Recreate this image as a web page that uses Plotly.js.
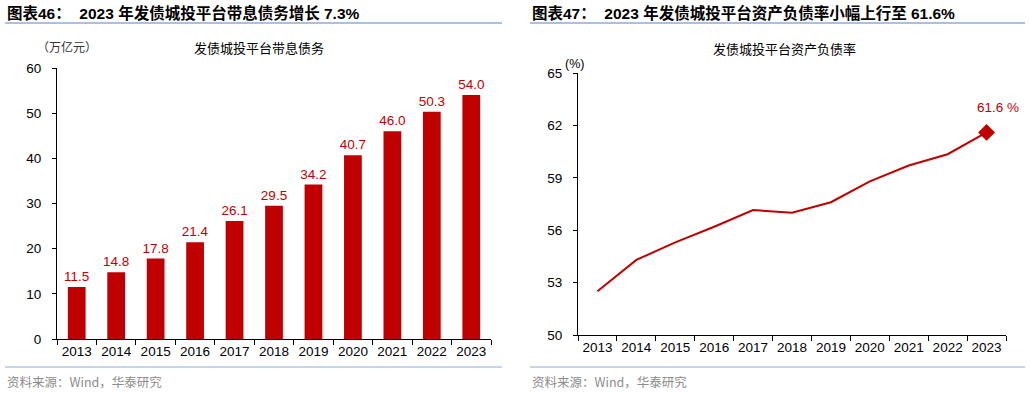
<!DOCTYPE html>
<html><head><meta charset="utf-8">
<script src="https://cdn.plot.ly/plotly-3.0.1.min.js"></script>
<style>html,body{margin:0;padding:0;background:#fff}#c{width:1030px;height:393px}</style>
</head><body><div id="c"></div>
<script>
const years = ['2013','2014','2015','2016','2017','2018','2019','2020','2021','2022','2023'];
const debt = [11.5,14.8,17.8,21.4,26.1,29.5,34.2,40.7,46.0,50.3,54.0];
const ratio = [52.5,54.3,55.3,56.2,57.15,57.0,57.6,58.8,59.7,60.35,61.6];
const debtTicks = [0,10,20,30,40,50,60];
const ratioTicks = [50,53,56,59,62,65];

const red = '#C00000';
const F = 'Liberation Sans, Arial, Noto Sans CJK SC, sans-serif';
const CJK = 'Noto Sans CJK SC, sans-serif';
const last = ratio.length - 1;

const traces = [
  {type:'bar', x:years, y:debt, xaxis:'x', yaxis:'y', marker:{color:red},
   text:debt.map(v=>v.toFixed(1)), textposition:'outside', cliponaxis:false, constraintext:'none',
   textfont:{family:F,size:13.5,color:red}, hoverinfo:'skip'},
  {type:'scatter', mode:'lines+markers', x:years, y:ratio, xaxis:'x2', yaxis:'y2',
   line:{color:red,width:2},
   marker:{symbol:'diamond', color:red, opacity:1, line:{width:0}, size:ratio.map((v,i)=>i===last?13:0)},
   cliponaxis:false, hoverinfo:'skip'}
];

function xax(dom, anchor){
  return {type:'category', categoryorder:'array', categoryarray:years, range:[-0.5, years.length-0.5],
    domain:dom, anchor:anchor, showgrid:false, showline:true, linecolor:'#000', linewidth:1,
    ticks:'outside', tickson:'boundaries', ticklen:5, tickcolor:'#000',
    tickfont:{family:F,size:13.5,color:'#000'}, tickangle:0};
}
function yax(dom, anchor, rng, tv){
  return {domain:dom, anchor:anchor, range:rng, tickvals:tv, showgrid:false, zeroline:false,
    showline:true, linecolor:'#000', linewidth:1, ticks:'outside', ticklen:4, tickcolor:'#000',
    ticklabelstandoff:8, tickfont:{family:F,size:13.5,color:'#000'}};
}
const layout = {
  width:1030, height:393, margin:{l:0,r:0,t:0,b:0}, showlegend:false,
  paper_bgcolor:'#fff', plot_bgcolor:'#fff', bargap:0.55,
  xaxis:xax([57/1030, 491/1030], 'y'),
  yaxis:yax([54/393, 325/393], 'x', [0,60], debtTicks),
  xaxis2:xax([578/1030, 1006/1030], 'y2'),
  yaxis2:yax([58/393, 320/393], 'x2', [50,65], ratioTicks),
  shapes:[
    {type:'line', xref:'paper', yref:'paper', x0:5/1030, x1:502/1030, y0:1-23/393, y1:1-23/393, line:{color:'#8EAADB',width:1.5}},
    {type:'line', xref:'paper', yref:'paper', x0:530/1030, x1:1025/1030, y0:1-23/393, y1:1-23/393, line:{color:'#8EAADB',width:1.5}},
    {type:'line', xref:'paper', yref:'paper', x0:5/1030, x1:502/1030, y0:1-367/393, y1:1-367/393, line:{color:'#8EAADB',width:1}},
    {type:'line', xref:'paper', yref:'paper', x0:530/1030, x1:1025/1030, y0:1-367/393, y1:1-367/393, line:{color:'#8EAADB',width:1}}
  ],
  annotations:[
    {xref:'paper', yref:'paper', x:5/1030, y:1-13/393, xanchor:'left', yanchor:'middle', showarrow:false,
     text:'<b>图表46：  2023 年发债城投平台带息债务增长 7.3%</b>', font:{family:F,size:15.5,color:'#000'}},
    {xref:'paper', yref:'paper', x:530/1030, y:1-13/393, xanchor:'left', yanchor:'middle', showarrow:false,
     text:'<b>图表47：  2023 年发债城投平台资产负债率小幅上行至 61.6%</b>', font:{family:F,size:15.5,color:'#000'}},
    {xref:'paper', yref:'paper', x:259/1030, y:1-48/393, xanchor:'center', yanchor:'middle', showarrow:false,
     text:'发债城投平台带息债务', font:{family:CJK,size:13,color:'#000'}},
    {xref:'paper', yref:'paper', x:35/1030, y:1-46/393, xanchor:'left', yanchor:'middle', showarrow:false,
     text:'（万亿元）', font:{family:CJK,size:12,color:'#333'}},
    {xref:'paper', yref:'paper', x:784/1030, y:1-49/393, xanchor:'center', yanchor:'middle', showarrow:false,
     text:'发债城投平台资产负债率', font:{family:CJK,size:13,color:'#000'}},
    {xref:'paper', yref:'paper', x:563/1030, y:1-64/393, xanchor:'left', yanchor:'middle', showarrow:false,
     text:'(%)', font:{family:F,size:12.5,color:'#000'}},
    {xref:'x2', yref:'y2', x:last, y:ratio[last], xanchor:'center', yanchor:'bottom',
     xshift:11, yshift:15, showarrow:false, text:ratio[last].toFixed(1)+' %', font:{family:F,size:13.5,color:red}},
    {xref:'paper', yref:'paper', x:5/1030, y:1-381/393, xanchor:'left', yanchor:'middle', showarrow:false,
     text:'资料来源：Wind，华泰研究', font:{family:CJK,size:12.5,color:'#8c8c8c'}},
    {xref:'paper', yref:'paper', x:530/1030, y:1-381/393, xanchor:'left', yanchor:'middle', showarrow:false,
     text:'资料来源：Wind，华泰研究', font:{family:CJK,size:12.5,color:'#8c8c8c'}}
  ]
};
Plotly.newPlot('c', traces, layout, {staticPlot:true, displayModeBar:false});
</script></body></html>
